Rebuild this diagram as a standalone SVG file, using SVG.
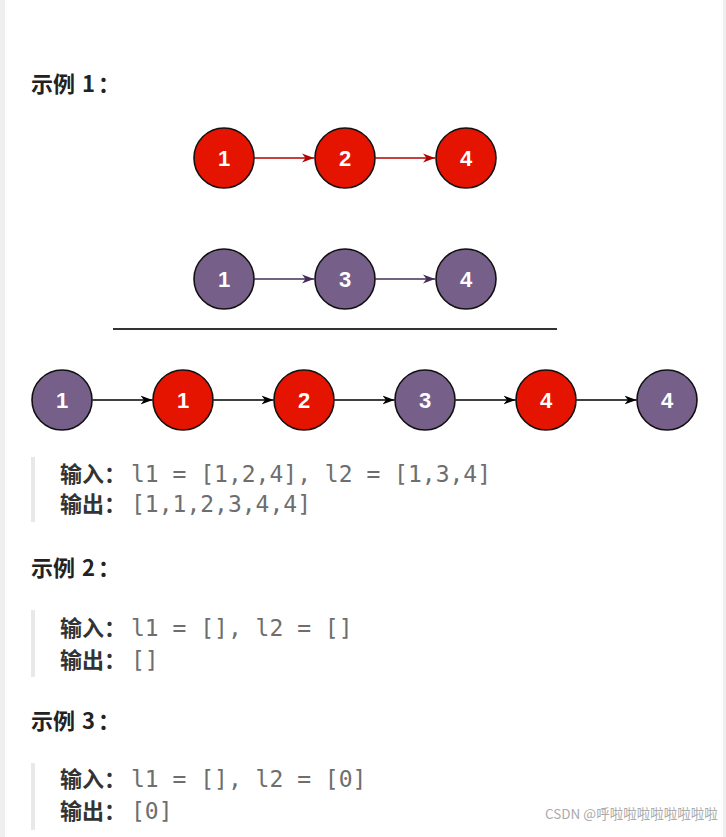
<svg xmlns="http://www.w3.org/2000/svg" width="726" height="837" viewBox="0 0 726 837">
<defs>
<style>
.h{font-family:"Noto Sans CJK SC","Noto Sans",sans-serif;font-weight:700;font-size:22px;fill:#222}
.lb{font-family:"Noto Sans CJK SC","Noto Sans",sans-serif;font-weight:700;font-size:22px;fill:#333}
.mono{font-family:"DejaVu Sans Mono","Liberation Mono",monospace;font-size:23px;fill:#6e6e6e}
.bar{fill:#e8e8e8}
.red{fill:#e51400;stroke:#111;stroke-width:1.6}
.pur{fill:#76608a;stroke:#111;stroke-width:1.6}
.nt{font-family:"Liberation Sans",Arial,sans-serif;font-weight:700;font-size:22px;fill:#fff;text-anchor:middle}
.e{fill:none;stroke-width:1.5}
.wm{font-family:"Noto Sans CJK SC","Noto Sans",sans-serif;font-size:13.5px;fill:#aaa}
</style>
<marker id="ar" markerUnits="userSpaceOnUse" markerWidth="13" markerHeight="11" refX="12" refY="5.5" orient="auto"><path d="M0,1 L12,5.5 L0,10 L3.5,5.5 Z" fill="#b20000"/></marker>
<marker id="ap" markerUnits="userSpaceOnUse" markerWidth="13" markerHeight="11" refX="12" refY="5.5" orient="auto"><path d="M0,1 L12,5.5 L0,10 L3.5,5.5 Z" fill="#432d57"/></marker>
<marker id="ab" markerUnits="userSpaceOnUse" markerWidth="13" markerHeight="11" refX="12" refY="5.5" orient="auto"><path d="M0,1 L12,5.5 L0,10 L3.5,5.5 Z" fill="#000"/></marker>
</defs>
<rect x="0" y="0" width="726" height="837" fill="#fff"/>
<rect x="0" y="0" width="5" height="837" fill="#efefef"/>
<rect x="723" y="0" width="3" height="837" fill="#efefef"/>

<text class="h" x="31" y="92">示例<tspan dx="2"> 1</tspan><tspan dx="3">：</tspan></text>

<g id="connectors">
<line class="e" x1="254.5" y1="158" x2="314" y2="158" stroke="#b20000" marker-end="url(#ar)"/>
<line class="e" x1="375.5" y1="158" x2="435" y2="158" stroke="#b20000" marker-end="url(#ar)"/>
<line class="e" x1="254.5" y1="279" x2="314" y2="279" stroke="#432d57" marker-end="url(#ap)"/>
<line class="e" x1="375.5" y1="279" x2="435" y2="279" stroke="#432d57" marker-end="url(#ap)"/>
<line class="e" x1="92.5" y1="400" x2="152.5" y2="400" stroke="#000" marker-end="url(#ab)"/>
<line class="e" x1="213.5" y1="400" x2="273.5" y2="400" stroke="#000" marker-end="url(#ab)"/>
<line class="e" x1="334.5" y1="400" x2="394.5" y2="400" stroke="#000" marker-end="url(#ab)"/>
<line class="e" x1="455.5" y1="400" x2="515.5" y2="400" stroke="#000" marker-end="url(#ab)"/>
<line class="e" x1="576.5" y1="400" x2="636.5" y2="400" stroke="#000" marker-end="url(#ab)"/>
</g>

<g id="a1"><circle class="red" cx="224" cy="158" r="30"/><text class="nt" x="224" y="166">1</text></g>
<g id="a2"><circle class="red" cx="345" cy="158" r="30"/><text class="nt" x="345" y="166">2</text></g>
<g id="a3"><circle class="red" cx="466" cy="158" r="30"/><text class="nt" x="466" y="166">4</text></g>

<g id="b1"><circle class="pur" cx="224" cy="279" r="30"/><text class="nt" x="224" y="287">1</text></g>
<g id="b2"><circle class="pur" cx="345" cy="279" r="30"/><text class="nt" x="345" y="287">3</text></g>
<g id="b3"><circle class="pur" cx="466" cy="279" r="30"/><text class="nt" x="466" y="287">4</text></g>

<line x1="113" y1="329" x2="557" y2="329" stroke="#333" stroke-width="2"/>

<g id="c1"><circle class="pur" cx="62" cy="400" r="30"/><text class="nt" x="62" y="408">1</text></g>
<g id="c2"><circle class="red" cx="183" cy="400" r="30"/><text class="nt" x="183" y="408">1</text></g>
<g id="c3"><circle class="red" cx="304" cy="400" r="30"/><text class="nt" x="304" y="408">2</text></g>
<g id="c4"><circle class="pur" cx="425" cy="400" r="30"/><text class="nt" x="425" y="408">3</text></g>
<g id="c5"><circle class="red" cx="546" cy="400" r="30"/><text class="nt" x="546" y="408">4</text></g>
<g id="c6"><circle class="pur" cx="667" cy="400" r="30"/><text class="nt" x="667" y="408">4</text></g>

<rect class="bar" x="31" y="457" width="4" height="65"/>
<text class="lb" x="60" y="482">输入：</text><text class="mono" x="131" y="482">l1 = [1,2,4], l2 = [1,3,4]</text>
<text class="lb" x="60" y="512">输出：</text><text class="mono" x="131" y="512">[1,1,2,3,4,4]</text>

<text class="h" x="31" y="576">示例<tspan dx="2"> 2</tspan><tspan dx="3">：</tspan></text>
<rect class="bar" x="31" y="610" width="4" height="67"/>
<text class="lb" x="60" y="636">输入：</text><text class="mono" x="131" y="636">l1 = [], l2 = []</text>
<text class="lb" x="60" y="668">输出：</text><text class="mono" x="131" y="668">[]</text>

<text class="h" x="31" y="729">示例<tspan dx="2"> 3</tspan><tspan dx="3">：</tspan></text>
<rect class="bar" x="31" y="763" width="4" height="67"/>
<text class="lb" x="60" y="787">输入：</text><text class="mono" x="131" y="787">l1 = [], l2 = [0]</text>
<text class="lb" x="60" y="819">输出：</text><text class="mono" x="131" y="819">[0]</text>

<text class="wm" x="545" y="819">CSDN @呼啦啦啦啦啦啦啦啦</text>
</svg>
